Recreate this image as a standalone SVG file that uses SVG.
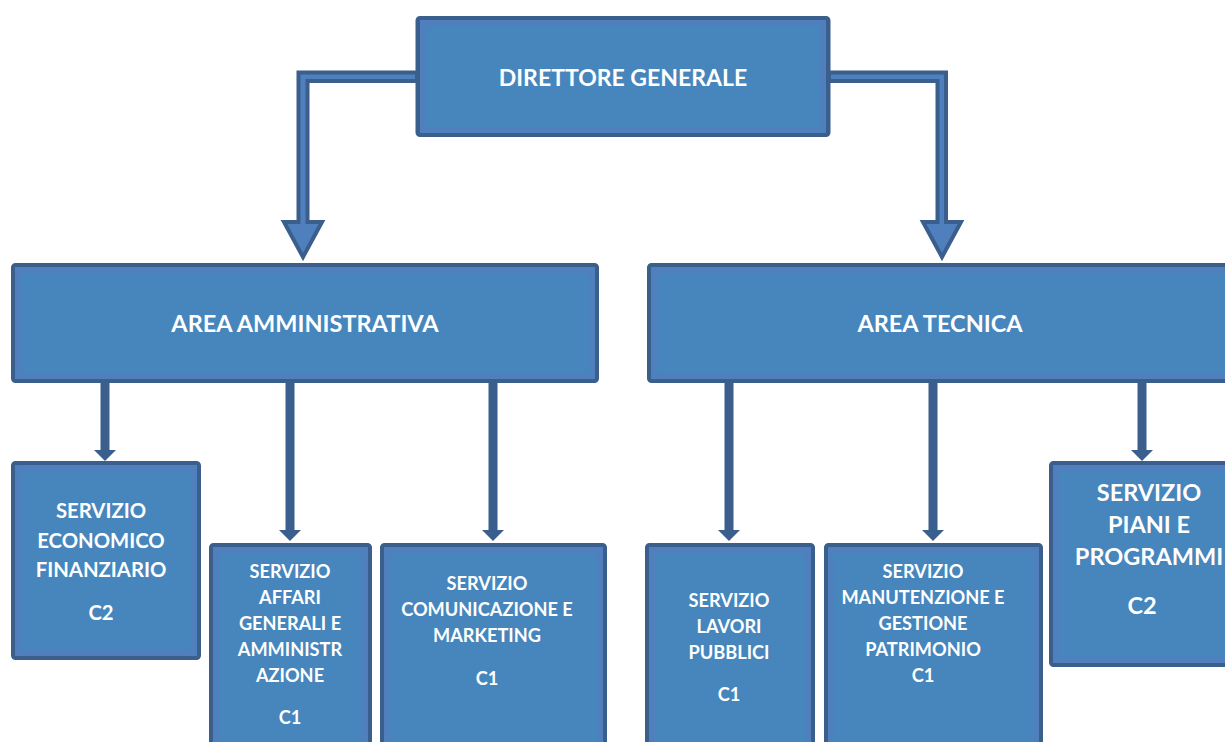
<svg xmlns="http://www.w3.org/2000/svg" width="1225" height="742" viewBox="0 0 1225 742">
<defs>
<style>
.box{fill:#4686bc;stroke:#3a5f8d;stroke-width:5;}
.bevel{fill:none;stroke:#4f80bd;stroke-width:6;}
.t{font-family:Lato,"Liberation Sans",sans-serif;font-weight:bold;fill:#ffffff;text-anchor:middle;}
.fat{fill:#4f80bd;stroke:#3a5f8d;stroke-width:4;stroke-linejoin:miter;}
.thin{stroke:#3a5f8d;stroke-width:9;fill:none;}
.head{fill:#3a5f8d;}
</style>
</defs>
<rect width="1225" height="742" fill="#ffffff"/>
<g id="connectors">
<path class="fat" d="M417,72.5 H298.5 V222 H284 L303,257 L322,222 H307.5 V81 H417 Z"/>
<path class="fat" d="M829,72.5 H946 V222 H961 L942,257 L923,222 H937.5 V81 H829 Z"/>
<line class="thin" x1="105" y1="382" x2="105" y2="451"/><polygon class="head" points="94,450 116,450 105,461"/>
<line class="thin" x1="290" y1="382" x2="290" y2="531"/><polygon class="head" points="279,530 301,530 290,541"/>
<line class="thin" x1="493" y1="382" x2="493" y2="531"/><polygon class="head" points="482,530 504,530 493,541"/>
<line class="thin" x1="729" y1="382" x2="729" y2="531"/><polygon class="head" points="718,530 740,530 729,541"/>
<line class="thin" x1="933" y1="382" x2="933" y2="531"/><polygon class="head" points="922,530 944,530 933,541"/>
<line class="thin" x1="1142" y1="382" x2="1142" y2="451"/><polygon class="head" points="1131,450 1153,450 1142,461"/>
</g>
<g id="direttore">
<rect class="box" x="418" y="18.5" width="410" height="116" rx="2"/>
<rect class="bevel" x="423" y="23" width="400" height="107"/>
<text class="t" x="623" y="86" font-size="23">DIRETTORE GENERALE</text>
</g>
<g id="area-amministrativa">
<rect class="box" x="13.5" y="265.5" width="583" height="115" rx="2"/>
<rect class="bevel" x="18" y="270" width="574" height="106"/>
<text class="t" x="305" y="332" font-size="23.5">AREA AMMINISTRATIVA</text>
</g>
<g id="area-tecnica">
<rect class="box" x="649.5" y="265.5" width="590" height="115" rx="2"/>
<rect class="bevel" x="654" y="270" width="590" height="106"/>
<text class="t" x="940" y="332" font-size="23.5">AREA TECNICA</text>
</g>
<g id="servizio-economico">
<rect class="box" x="13.5" y="463.5" width="185" height="194" rx="2"/>
<rect class="bevel" x="18" y="468" width="176" height="185"/>
<text class="t" font-size="20.3"><tspan x="101" y="517.5">SERVIZIO</tspan><tspan x="101" y="547.5">ECONOMICO</tspan><tspan x="101" y="576.5">FINANZIARIO</tspan><tspan x="101" y="619.5">C2</tspan></text>
</g>
<g id="servizio-affari">
<rect class="box" x="211.5" y="545.5" width="158" height="210" rx="2"/>
<rect class="bevel" x="216" y="550" width="149" height="200"/>
<text class="t" font-size="18.2"><tspan x="290" y="577.5">SERVIZIO</tspan><tspan x="290" y="603.5">AFFARI</tspan><tspan x="290" y="629.5">GENERALI E</tspan><tspan x="290" y="655.5">AMMINISTR</tspan><tspan x="290" y="681.5">AZIONE</tspan><tspan x="290" y="723.5">C1</tspan></text>
</g>
<g id="servizio-comunicazione">
<rect class="box" x="382.5" y="545.5" width="222" height="210" rx="2"/>
<rect class="bevel" x="387" y="550" width="213" height="200"/>
<text class="t" font-size="18.2"><tspan x="487" y="589.5">SERVIZIO</tspan><tspan x="487" y="615.5">COMUNICAZIONE E</tspan><tspan x="487" y="641.5">MARKETING</tspan><tspan x="487" y="684.5">C1</tspan></text>
</g>
<g id="servizio-lavori">
<rect class="box" x="647.5" y="545.5" width="165" height="210" rx="2"/>
<rect class="bevel" x="652" y="550" width="156" height="200"/>
<text class="t" font-size="18.2"><tspan x="729" y="606.5">SERVIZIO</tspan><tspan x="729" y="632.5">LAVORI</tspan><tspan x="729" y="658.5">PUBBLICI</tspan><tspan x="729" y="700.5">C1</tspan></text>
</g>
<g id="servizio-manutenzione">
<rect class="box" x="826.5" y="545.5" width="214" height="210" rx="2"/>
<rect class="bevel" x="831" y="550" width="205" height="200"/>
<text class="t" font-size="18.2"><tspan x="923" y="577.5">SERVIZIO</tspan><tspan x="923" y="603.5">MANUTENZIONE E</tspan><tspan x="923" y="629.5">GESTIONE</tspan><tspan x="923" y="655.5">PATRIMONIO</tspan><tspan x="923" y="681.5">C1</tspan></text>
</g>
<g id="servizio-piani">
<rect class="box" x="1051.5" y="463.5" width="190" height="201" rx="2"/>
<rect class="bevel" x="1056" y="468" width="180" height="192"/>
<text class="t" font-size="23.5"><tspan x="1149" y="501">SERVIZIO</tspan><tspan x="1149" y="533">PIANI E</tspan><tspan x="1149" y="565">PROGRAMMI</tspan><tspan x="1142" y="614">C2</tspan></text>
</g>
</svg>
